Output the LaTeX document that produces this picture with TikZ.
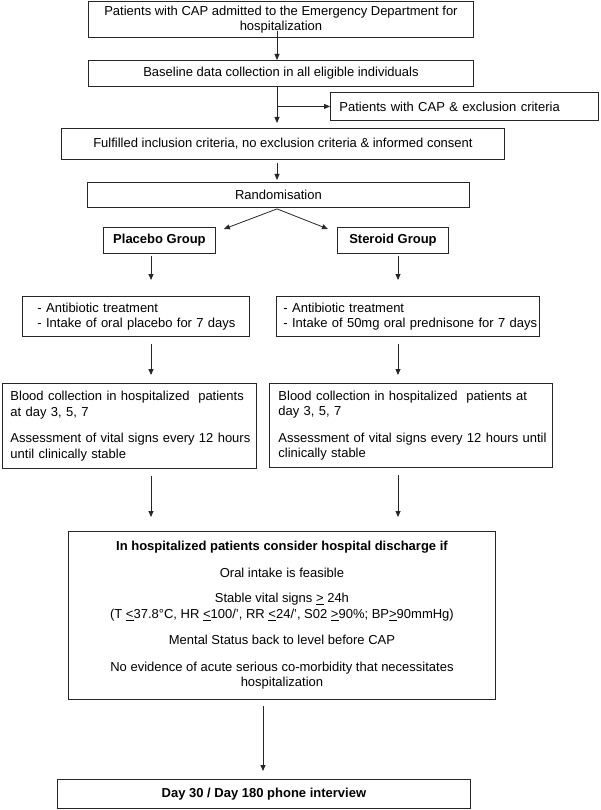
\documentclass[tikz,border=0pt]{standalone}
\usepackage{fontspec}
\setmainfont{Liberation Sans}
\usetikzlibrary{arrows.meta,calc}
\begin{document}
\begin{tikzpicture}[x=1pt,y=-1pt,
  every node/.style={font=\fontsize{13}{15.5}\selectfont},
  bf/.style={font=\fontsize{13}{15.5}\selectfont\bfseries},
  box/.style={draw=black!85, line width=0.9pt, inner ysep=0pt, anchor=north west},
  cbox/.style={box, align=center, inner xsep=0pt},
  lbox/.style={box, align=left},
  arr/.style={draw=black!85, line width=0.8pt, -{Triangle[length=6pt,width=5pt]}}
]
\useasboundingbox (0,0) rectangle (600,810);

\node[cbox, minimum width=385pt, minimum height=36pt] (b1) at (88,1) {Patients with CAP admitted to the Emergency Department for\\hospitalization};
\node[cbox, minimum width=385pt, minimum height=26pt] (b2) at (88,60) {Baseline data collection in all eligible individuals};
\node[lbox, text width=250pt, inner xsep=9pt, minimum height=28pt] (ex) at (330,92) {Patients with CAP \& exclusion criteria};
\node[cbox, minimum width=443pt, minimum height=31pt] (fu) at (61,128) {Fulfilled inclusion criteria, no exclusion criteria \& informed consent};
\node[cbox, minimum width=382pt, minimum height=25pt] (ra) at (87,182) {Randomisation};
\node[cbox, bf, minimum width=112pt, minimum height=26pt] (pl) at (103,227) {Placebo Group};
\node[cbox, bf, minimum width=111pt, minimum height=26pt] (st) at (337,227) {Steroid Group};
\node[lbox, text width=197pt, inner xsep=15pt, minimum height=40pt] (tl) at (22,296) {\mbox{- Antibiotic treatment}\\\mbox{- Intake of oral placebo for 7 days}};
\node[lbox, text width=249pt, inner xsep=7pt, minimum height=40pt] (tr) at (276,296) {\mbox{- Antibiotic treatment}\\\mbox{- Intake of 50mg oral prednisone for 7 days}};
\node[lbox, text width=238pt, inner xsep=8pt, minimum height=85pt] (bl) at (2,383) {\mbox{Blood collection in hospitalized\ \ patients}\\\mbox{at day 3, 5, 7}\\[11pt]\mbox{Assessment of vital signs every 12 hours}\\\mbox{until clinically stable}};
\node[lbox, text width=265pt, inner xsep=9pt, minimum height=84pt] (br) at (269,383) {\mbox{Blood collection in hospitalized\ \ patients at}\\\mbox{day 3, 5, 7}\\[11pt]\mbox{Assessment of vital signs every 12 hours until}\\\mbox{clinically stable}};
\node[cbox, minimum width=427pt, minimum height=168pt] (bg) at (68,531) {\textbf{In hospitalized patients consider hospital discharge if}\\[11pt]
Oral intake is feasible\\[10pt]
Stable vital signs \underline{>} 24h\\
(T \underline{<}37.8°C, HR \underline{<}100/’, RR \underline{<}24/’, S02 \underline{>}90\%; BP\underline{>}90mmHg)\\[11pt]
Mental Status back to level before CAP\\[11pt]
No evidence of acute serious co-morbidity that necessitates\\
hospitalization};
\node[cbox, bf, minimum width=413pt, minimum height=29pt] (fi) at (57,779) {Day 30 / Day 180 phone interview};

\coordinate (sp) at (277,0);
\coordinate (cl) at (151,0);
\coordinate (cr) at (398,0);
\coordinate (cf) at (263,0);

\draw[arr, shorten <=-7pt] (b1.south -| sp) -- (b2.north -| sp);
\draw[arr, shorten >=5pt] (b2.south -| sp) -- (fu.north -| sp);
\draw[arr] (ex.west -| sp) -- (ex.west);
\draw[arr, shorten <=3pt, shorten >=2pt] (fu.south -| sp) -- (ra.north -| sp);
\draw[arr] ($(ra.south -| sp)+(0,1)$) -- ($(pl.north east)+(8,2)$);
\draw[arr] ($(ra.south -| sp)+(0,1)$) -- ($(st.north west)+(-9,2)$);
\draw[arr, shorten <=2pt, shorten >=16pt] (pl.south -| cl) -- (tl.north -| cl);
\draw[arr, shorten <=2pt, shorten >=16pt] (st.south -| cr) -- (tr.north -| cr);
\draw[arr, shorten <=7pt, shorten >=8pt] (tl.south -| cl) -- (bl.north -| cl);
\draw[arr, shorten <=7pt, shorten >=8pt] (tr.south -| cr) -- (br.north -| cr);
\draw[arr, shorten <=7pt, shorten >=14pt] (bl.south -| cl) -- (bg.north -| cl);
\draw[arr, shorten <=7pt, shorten >=14pt] (br.south -| cr) -- (bg.north -| cr);
\draw[arr, shorten <=6pt, shorten >=8pt] (bg.south -| cf) -- (fi.north -| cf);
\end{tikzpicture}
\end{document}
